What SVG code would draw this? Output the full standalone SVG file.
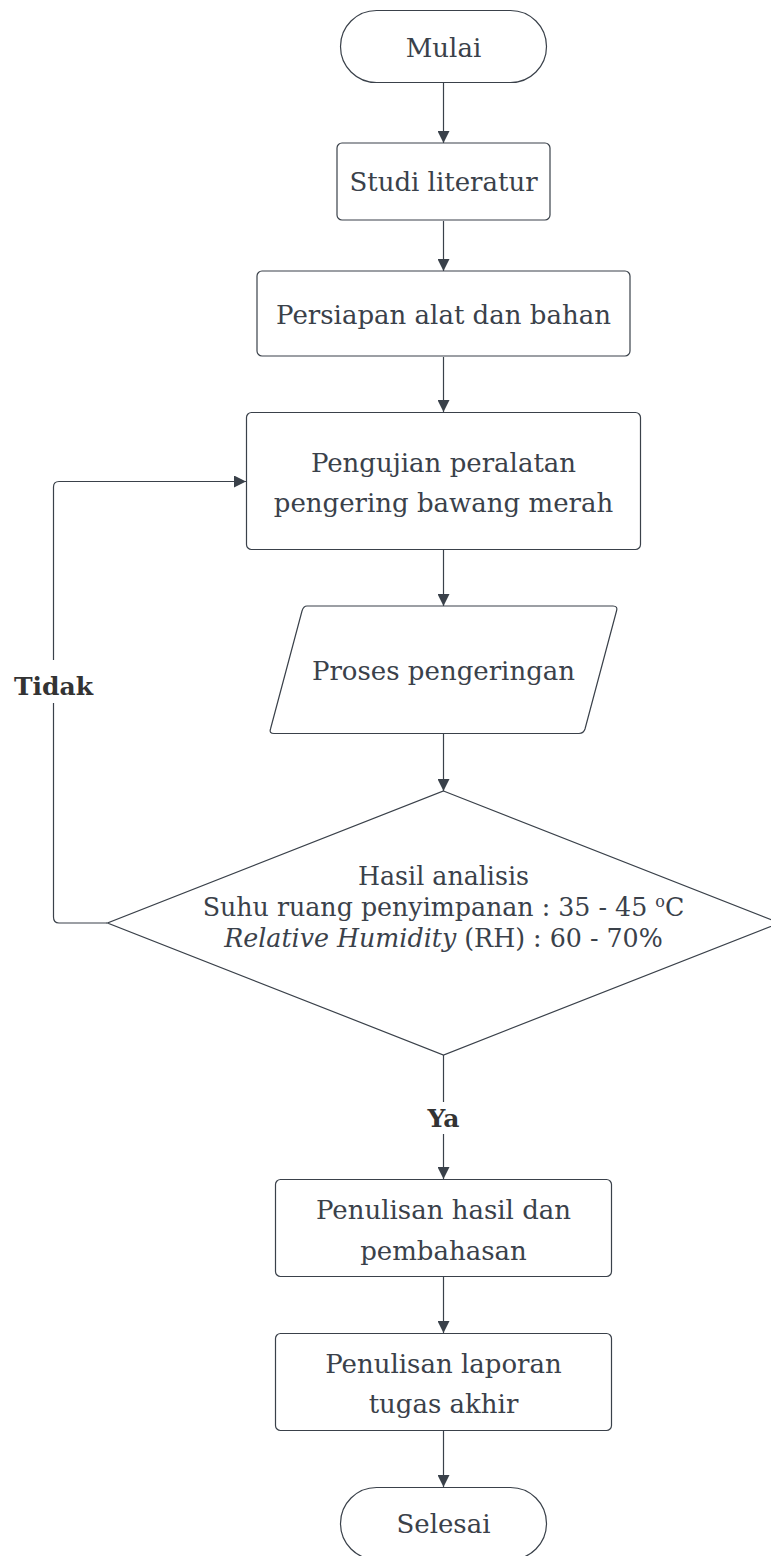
<svg xmlns="http://www.w3.org/2000/svg" width="771" height="1556" viewBox="0 0 771 1556">
<defs>
<style>
.shape{fill:#ffffff;stroke:#3a414a;stroke-width:1.2}
.conn{fill:none;stroke:#3a414a;stroke-width:1.2}
.t{font-family:"DejaVu Serif","Liberation Serif",serif;font-size:26px;fill:#3a414a;text-anchor:middle}
.d{font-family:"DejaVu Serif","Liberation Serif",serif;font-size:25.3px;fill:#3a414a;text-anchor:middle}
.lbl{font-family:"DejaVu Serif","Liberation Serif",serif;font-size:25px;font-weight:bold;fill:#333333;text-anchor:middle}
</style>
<marker id="arr" viewBox="0 0 12 12" markerWidth="12" markerHeight="12" refX="12" refY="6" orient="auto" markerUnits="userSpaceOnUse">
<path d="M0,0 L12,6 L0,12 Z" fill="#3a414a"/>
</marker>
</defs>
<rect width="771" height="1556" fill="#ffffff"/>
<g id="connectors">
<line class="conn" x1="443.5" y1="83" x2="443.5" y2="143" marker-end="url(#arr)"/>
<line class="conn" x1="443.5" y1="221" x2="443.5" y2="271" marker-end="url(#arr)"/>
<line class="conn" x1="443.5" y1="357" x2="443.5" y2="412" marker-end="url(#arr)"/>
<line class="conn" x1="443.5" y1="550" x2="443.5" y2="606" marker-end="url(#arr)"/>
<line class="conn" x1="443.5" y1="734" x2="443.5" y2="791" marker-end="url(#arr)"/>
<line class="conn" x1="443.5" y1="1055" x2="443.5" y2="1102"/>
<line class="conn" x1="443.5" y1="1134" x2="443.5" y2="1179" marker-end="url(#arr)"/>
<line class="conn" x1="443.5" y1="1277" x2="443.5" y2="1333" marker-end="url(#arr)"/>
<line class="conn" x1="443.5" y1="1431" x2="443.5" y2="1487" marker-end="url(#arr)"/>
<path class="conn" d="M107,923 L59,923 Q53.5,923 53.5,917 L53.5,703"/>
<path class="conn" d="M53.5,660 L53.5,487 Q53.5,481.5 59,481.5 L246,481.5" marker-end="url(#arr)"/>
<text class="lbl" x="53.5" y="695">Tidak</text>
<text class="lbl" x="443.5" y="1127">Ya</text>
</g>
<g id="mulai">
<rect class="shape" x="340.5" y="10.5" width="206" height="72" rx="36" ry="36"/>
<text class="t" x="443.5" y="57">Mulai</text>
</g>
<g id="studi">
<rect class="shape" x="337" y="143" width="213" height="77" rx="5"/>
<text class="t" x="443.5" y="191">Studi literatur</text>
</g>
<g id="persiapan">
<rect class="shape" x="257" y="271" width="373" height="85" rx="5"/>
<text class="t" x="443.5" y="324">Persiapan alat dan bahan</text>
</g>
<g id="pengujian">
<rect class="shape" x="246.5" y="412.5" width="394" height="137" rx="5"/>
<text class="t" x="443.5" y="472">Pengujian peralatan</text>
<text class="t" x="443.5" y="512">pengering bawang merah</text>
</g>
<g id="proses">
<path class="shape" d="M307,606 L613,606 Q618,606 616.5,611 L585,729 Q583.5,733.5 579,733.5 L274,733.5 Q269,733.5 270.5,729 L302,611 Q303.5,606 307,606 Z"/>
<text class="t" x="443.5" y="680">Proses pengeringan</text>
</g>
<g id="hasil">
<path class="shape" d="M443.5,791 L779.5,923 L443.5,1055 L107.5,923 Z"/>
<text class="d" x="443.5" y="885">Hasil analisis</text>
<text class="d" x="443.5" y="916">Suhu ruang penyimpanan : 35 - 45 <tspan font-size="16" dy="-9">o</tspan><tspan dy="9">C</tspan></text>
<text class="d" x="443.5" y="947"><tspan font-style="italic">Relative Humidity</tspan> (RH) : 60 - 70%</text>
</g>
<g id="penulisan-hasil">
<rect class="shape" x="275.5" y="1179.5" width="336" height="97" rx="5"/>
<text class="t" x="443.5" y="1219">Penulisan hasil dan</text>
<text class="t" x="443.5" y="1260">pembahasan</text>
</g>
<g id="penulisan-laporan">
<rect class="shape" x="275.5" y="1333.5" width="336" height="97" rx="5"/>
<text class="t" x="443.5" y="1373">Penulisan laporan</text>
<text class="t" x="443.5" y="1413">tugas akhir</text>
</g>
<g id="selesai">
<rect class="shape" x="340.5" y="1487.5" width="206" height="72" rx="36" ry="36"/>
<text class="t" x="443.5" y="1533">Selesai</text>
</g>
</svg>
